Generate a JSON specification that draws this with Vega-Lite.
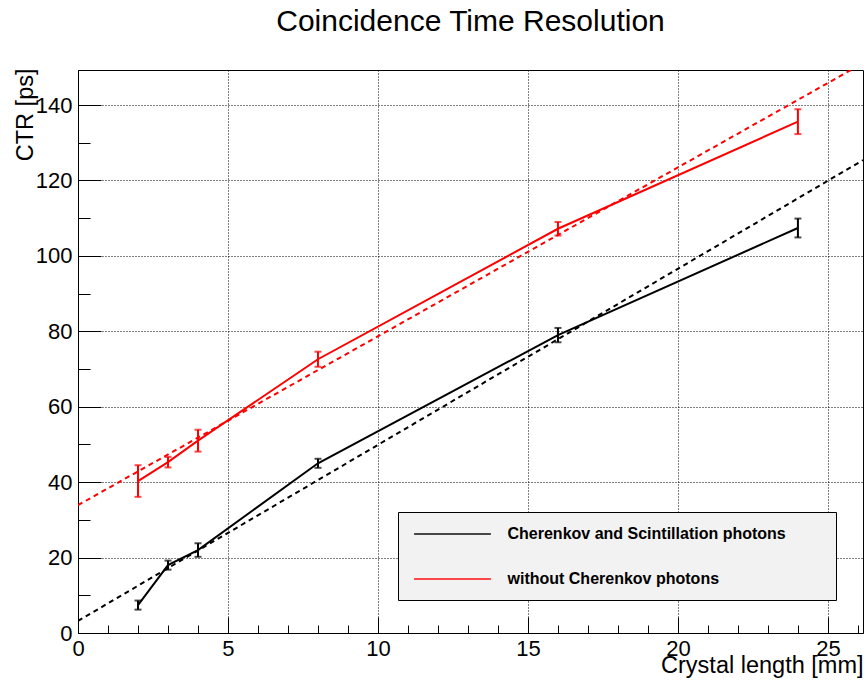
{
  "$schema": "https://vega.github.io/schema/vega-lite/v6.json",
  "width": 785,
  "height": 563,
  "autosize": {"type": "none"},
  "padding": {"left": 78, "top": 70, "right": 3, "bottom": 53},
  "background": "white",
  "title": {
    "text": "Coincidence Time Resolution",
    "anchor": "middle",
    "frame": "group",
    "fontSize": 30,
    "fontWeight": "normal",
    "font": "Liberation Sans",
    "color": "#000000",
    "baseline": "alphabetic",
    "offset": 7
  },
  "config": {
    "font": "Liberation Sans",
    "view": {"stroke": "#000000", "strokeWidth": 1},
    "axis": {"domainColor": "#000000", "tickColor": "#000000", "labelColor": "#000000", "titleColor": "#000000"}
  },
  "datasets": {
    "pts": [
      {"series": "Cherenkov and Scintillation photons", "x": 2, "y": 7.4, "lo": 6.2, "hi": 8.6},
      {"series": "Cherenkov and Scintillation photons", "x": 3, "y": 18.0, "lo": 16.8, "hi": 19.2},
      {"series": "Cherenkov and Scintillation photons", "x": 4, "y": 22.0, "lo": 20.2, "hi": 23.8},
      {"series": "Cherenkov and Scintillation photons", "x": 8, "y": 45.0, "lo": 43.8, "hi": 46.2},
      {"series": "Cherenkov and Scintillation photons", "x": 16, "y": 79.0, "lo": 77.1, "hi": 80.9},
      {"series": "Cherenkov and Scintillation photons", "x": 24, "y": 107.4, "lo": 104.9, "hi": 109.9},
      {"series": "without Cherenkov photons", "x": 2, "y": 40.3, "lo": 36.1, "hi": 44.5},
      {"series": "without Cherenkov photons", "x": 3, "y": 45.3, "lo": 43.9, "hi": 46.7},
      {"series": "without Cherenkov photons", "x": 4, "y": 51.0, "lo": 48.1, "hi": 53.9},
      {"series": "without Cherenkov photons", "x": 8, "y": 72.6, "lo": 70.6, "hi": 74.6},
      {"series": "without Cherenkov photons", "x": 16, "y": 107.2, "lo": 105.4, "hi": 109.0},
      {"series": "without Cherenkov photons", "x": 24, "y": 135.6, "lo": 132.3, "hi": 138.9}
    ],
    "fits": [
      {"series": "Cherenkov and Scintillation photons", "x": 0, "y": 3.2},
      {"series": "Cherenkov and Scintillation photons", "x": 26.17, "y": 125.4},
      {"series": "without Cherenkov photons", "x": 0, "y": 33.9},
      {"series": "without Cherenkov photons", "x": 26.17, "y": 151.1}
    ]
  },
  "encoding": {
    "x": {
      "field": "x", "type": "quantitative",
      "scale": {"domain": [0, 26.17], "nice": false, "zero": false},
      "title": "Crystal length [mm]",
      "axis": {
        "values": [0,1,2,3,4,5,6,7,8,9,10,11,12,13,14,15,16,17,18,19,20,21,22,23,24,25,26],
        "tickSize": {"condition": {"test": "datum.value % 5 === 0", "value": -16}, "value": -8},
        "tickWidth": 1,
        "grid": true,
        "gridDash": [1, 2],
        "gridColor": "#000000",
        "gridWidth": 1,
        "gridOpacity": {"condition": {"test": "datum.value % 5 === 0", "value": 1}, "value": 0},
        "labelExpr": "datum.value % 5 === 0 ? datum.label : ''",
        "labelFontSize": 22,
        "labelPadding": 21.5,
        "labelFlush": false,
        "labelOverlap": false,
        "titleFontSize": 23.5,
        "titleFontWeight": "normal",
        "titleAnchor": "end",
        "titleAlign": "right",
        "titleBaseline": "alphabetic",
        "titleX": 785,
        "titleY": 39
      }
    },
    "color": {
      "field": "series", "type": "nominal",
      "scale": {"domain": ["Cherenkov and Scintillation photons", "without Cherenkov photons"], "range": ["#000000", "#ff0000"]},
      "legend": {
        "orient": "none",
        "legendX": 320,
        "legendY": 442,
        "title": "\u00a0",
        "titleOrient": "right",
        "titleFontSize": 1,
        "titlePadding": 37,
        "fillColor": "#f2f2f2",
        "strokeColor": "#000000",
        "padding": 13,
        "symbolType": "M-4.8,0L4.8,0",
        "symbolSize": 256,
        "symbolStrokeWidth": 2,
        "symbolFillColor": "transparent",
        "symbolOffset": 32.5,
        "labelOffset": 46,
        "labelFontSize": 16,
        "labelFontWeight": "bold",
        "labelColor": "#000000",
        "labelLimit": 500,
        "rowPadding": 28
      }
    }
  },
  "layer": [
    {
      "data": {"name": "fits"},
      "mark": {"type": "line", "strokeDash": [5, 4], "strokeWidth": 2, "clip": true},
      "encoding": {
        "y": {
          "field": "y", "type": "quantitative",
          "scale": {"domain": [0, 149.3], "nice": false, "zero": false},
          "title": "CTR [ps]",
          "axis": {
            "values": [0,5,10,15,20,25,30,35,40,45,50,55,60,65,70,75,80,85,90,95,100,105,110,115,120,125,130,135,140,145],
            "tickSize": {"condition": {"test": "datum.value % 20 === 0", "value": -23}, "value": -12},
            "tickWidth": 1,
            "grid": true,
            "gridDash": [1, 2],
            "gridColor": "#000000",
            "gridWidth": 1,
            "gridOpacity": {"condition": {"test": "datum.value % 20 === 0", "value": 1}, "value": 0},
            "labelExpr": "datum.value % 20 === 0 ? datum.label : ''",
            "labelFontSize": 22,
            "labelPadding": 29,
            "labelFlush": false,
            "labelOverlap": false,
            "titleFontSize": 23.5,
            "titleFontWeight": "normal",
            "titleAngle": -90,
            "titleAlign": "right",
            "titleBaseline": "alphabetic",
            "titleX": -46,
            "titleY": -2
          }
        }
      }
    },
    {
      "data": {"name": "pts"},
      "mark": {"type": "line", "strokeWidth": 2},
      "encoding": {
        "y": {"field": "y", "type": "quantitative", "title": "CTR [ps]"}
      }
    },
    {
      "data": {"name": "pts"},
      "mark": {"type": "rule", "strokeWidth": 2},
      "encoding": {
        "y": {"field": "lo", "type": "quantitative", "title": "CTR [ps]"},
        "y2": {"field": "hi"}
      }
    },
    {
      "data": {"name": "pts"},
      "mark": {"type": "tick", "orient": "horizontal", "size": 7, "thickness": 2},
      "encoding": {
        "y": {"field": "lo", "type": "quantitative", "title": "CTR [ps]"}
      }
    },
    {
      "data": {"name": "pts"},
      "mark": {"type": "tick", "orient": "horizontal", "size": 7, "thickness": 2},
      "encoding": {
        "y": {"field": "hi", "type": "quantitative", "title": "CTR [ps]"}
      }
    }
  ]
}
